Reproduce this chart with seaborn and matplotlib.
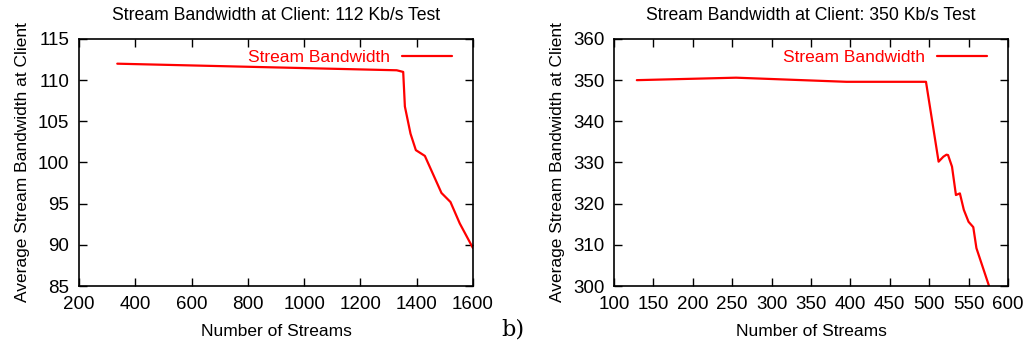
import numpy as np
import pandas as pd
import seaborn as sns
import matplotlib.pyplot as plt

# ---------------------------------------------------------------- data
streams_112 = [336, 1329, 1352, 1358, 1378, 1397, 1429, 1488, 1520, 1553, 1600]
bw_112 = [112.0, 111.2, 111.0, 106.8, 103.5, 101.5, 100.8, 96.3, 95.2, 92.6, 89.6]

streams_350 = [129, 255, 395, 496, 512, 518, 522, 524, 529, 534, 539, 544, 550, 556, 560, 576]
bw_350 = [350.0, 350.6, 349.6, 349.6, 330.2, 331.4, 331.9, 331.8, 329.0, 322.1, 322.5,
          318.5, 315.6, 314.3, 309.2, 300.0]

titles = ["Stream Bandwidth at Client: 112 Kb/s Test",
          "Stream Bandwidth at Client: 350 Kb/s Test"]
x_ticks = [np.arange(200, 1601, 200), np.arange(100, 601, 50)]
y_ticks = [np.arange(85, 116, 5), np.arange(300, 361, 10)]

# ---------------------------------------------------------------- style
sns.set_style("ticks")
plt.rcParams["font.family"] = ["Liberation Sans", "DejaVu Sans"]
plt.rcParams["font.size"] = 12.5
plt.rcParams["text.color"] = "black"
plt.rcParams["axes.labelcolor"] = "black"
plt.rcParams["xtick.color"] = "black"
plt.rcParams["ytick.color"] = "black"

fig = plt.figure(figsize=(10.26, 3.45), dpi=100)
ax1 = fig.add_axes([0.0770, 0.171, 0.3840, 0.716])
ax2 = fig.add_axes([0.5984, 0.171, 0.3840, 0.716])

panels = [
    (ax1, pd.DataFrame({"streams": streams_112, "bw": bw_112})),
    (ax2, pd.DataFrame({"streams": streams_350, "bw": bw_350})),
]

for i, (ax, df) in enumerate(panels):
    sns.lineplot(data=df, x="streams", y="bw", ax=ax, color="red", lw=1.6,
                 label="Stream Bandwidth", sort=False)
    ax.set_xlim(x_ticks[i][0], x_ticks[i][-1])
    ax.set_ylim(y_ticks[i][0], y_ticks[i][-1])
    ax.set_xticks(x_ticks[i])
    ax.set_yticks(y_ticks[i])
    ax.tick_params(direction="in", top=True, right=True, length=5.5, width=1,
                   labelsize=13.5, color="black", labelcolor="black")
    ax.tick_params(axis="x", pad=7)
    ax.tick_params(axis="y", pad=7)
    for s in ax.spines.values():
        s.set_visible(True)
        s.set_linewidth(1.2)
        s.set_color("black")
    ax.set_title(titles[i], fontsize=12.7, pad=14)
    ax.set_xlabel("Number of Streams", fontsize=12.5, labelpad=8)
    ax.set_ylabel("Average Stream Bandwidth at Client", fontsize=12.5, labelpad=6)
    ax.legend(loc="upper right", bbox_to_anchor=(0.965, 0.985), frameon=False,
              markerfirst=False, labelcolor="red", handlelength=2.9,
              fontsize=12.5, borderaxespad=0.0, handletextpad=0.7)

fig.text(0.5, 0.045, "b)", ha="center", va="center", fontsize=16,
         family=["DejaVu Serif"])

fig.savefig("out.png", dpi=100)
plt.close()
